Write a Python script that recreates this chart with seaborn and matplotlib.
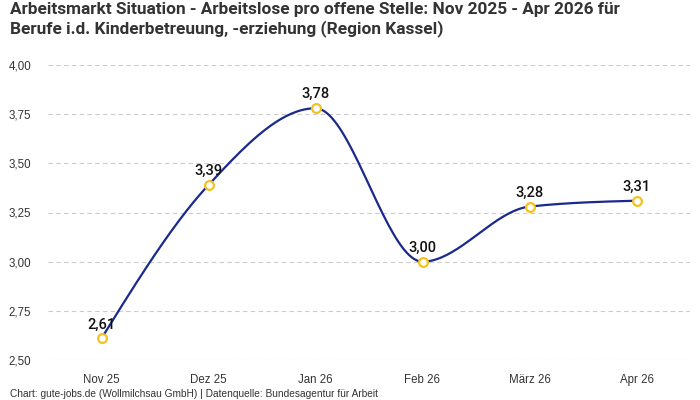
import numpy as np
import pandas as pd
import matplotlib
matplotlib.use("Agg")
import matplotlib.pyplot as plt
import seaborn as sns

categories = ["Nov 25", "Dez 25", "Jan 26", "Feb 26", "März 26", "Apr 26"]
values = [2.61, 3.39, 3.78, 3.00, 3.28, 3.31]
yticks = [2.50, 2.75, 3.00, 3.25, 3.50, 3.75, 4.00]

title = ("Arbeitsmarkt Situation - Arbeitslose pro offene Stelle: Nov 2025 - Apr 2026 für\n"
         "Berufe i.d. Kinderbetreuung, -erziehung (Region Kassel)")
footer = "Chart: gute-jobs.de (Wollmilchsau GmbH) | Datenquelle: Bundesagentur für Arbeit"

sns.set_theme(style="white")
plt.rcParams['font.family'] = ['Liberation Sans', 'DejaVu Sans']


def monotone_x(x, y, n=40):
    # d3 curveMonotoneX style rendering of the line
    x = np.asarray(x, float); y = np.asarray(y, float)
    h = np.diff(x); s = np.diff(y) / h
    m = np.zeros_like(y)
    for i in range(1, len(y) - 1):
        if s[i - 1] * s[i] <= 0:
            m[i] = 0
        else:
            p = (s[i - 1] * h[i] + s[i] * h[i - 1]) / (h[i - 1] + h[i])
            m[i] = (np.sign(s[i - 1]) + np.sign(s[i])) * min(abs(s[i - 1]), abs(s[i]), 0.5 * abs(p))
    m[0] = (3 * s[0] - m[1]) / 2 if len(y) > 2 else s[0]
    m[-1] = (3 * s[-1] - m[-2]) / 2
    xs, ys = [], []
    for i in range(len(y) - 1):
        t = np.linspace(0, 1, n, endpoint=(i == len(y) - 2))
        h00 = 2 * t**3 - 3 * t**2 + 1
        h10 = t**3 - 2 * t**2 + t
        h01 = -2 * t**3 + 3 * t**2
        h11 = t**3 - t**2
        xs.append(x[i] + t * h[i])
        ys.append(h00 * y[i] + h10 * h[i] * m[i] + h01 * y[i + 1] + h11 * h[i] * m[i + 1])
    return np.concatenate(xs), np.concatenate(ys)


pos = np.arange(len(categories))
df = pd.DataFrame({"pos": pos, "value": values})
sx, sy = monotone_x(pos, values)
curve = pd.DataFrame({"x": sx, "y": sy})

fig = plt.figure(figsize=(7, 4), dpi=100)
ax = fig.add_axes([48 / 700, 1 - 360 / 400, (690 - 48) / 700, (360 - 65) / 400])

sns.lineplot(data=curve, x="x", y="y", ax=ax, color="#1a2a8c", linewidth=1.6, sort=False)
sns.scatterplot(data=df, x="pos", y="value", ax=ax, s=40, facecolor="white",
                edgecolor="#f5c21b", linewidth=1.6, zorder=5)

for p, v in zip(pos, values):
    ax.annotate(f"{v:.2f}".replace(".", ","), (p, v), xytext=(0, 5), textcoords="offset points",
                ha="center", va="bottom", fontsize=10.5, fontweight="medium",
                family=["Roboto", "DejaVu Sans"], color="#111111")

ax.set_xlim(-0.5, len(categories) - 0.5)
ax.set_ylim(2.5, 4.0)
ax.set_yticks(yticks)
ax.set_yticklabels([f"{t:.2f}".replace(".", ",") for t in yticks])
ax.set_xticks(pos)
ax.set_xticklabels(categories)
ax.tick_params(axis="both", labelsize=8.3, colors="#333333", length=0)
ax.tick_params(axis="y", pad=12)
ax.tick_params(axis="x", pad=10)
ax.grid(axis="y", color="#cccccc", linestyle=(0, (4, 3)), linewidth=0.8)
ax.set_axisbelow(True)
for sp in ax.spines.values():
    sp.set_visible(False)
ax.set_xlabel("")
ax.set_ylabel("")

fig.text(10 / 700, 1 - 2 / 400, title, ha="left", va="top", fontsize=12.4,
         fontweight="bold", family=["Roboto", "DejaVu Sans"], color="#333333", linespacing=1.2)
fig.text(10 / 700, 1 - 394 / 400, footer, ha="left", va="center", fontsize=7.3, color="#333333")

fig.savefig("out.png", dpi=100)
